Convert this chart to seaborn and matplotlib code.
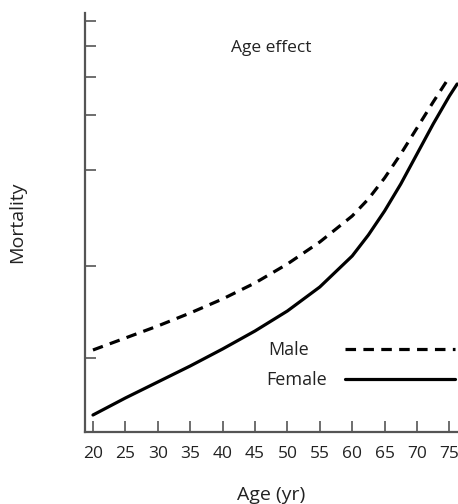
import matplotlib
matplotlib.use("Agg")
import matplotlib.pyplot as plt
import seaborn as sns
import pandas as pd

# Data (y in arbitrary mortality units)
male_age = [20, 25, 30, 35, 40, 45, 50, 55, 60, 62.5, 65, 67.5, 70, 72.5, 74.5]
male_mort = [82, 94, 106, 119, 133, 149, 168, 190, 216, 233, 254, 278, 304, 330, 350]
female_age = [20, 25, 30, 35, 40, 45, 50, 55, 60, 62.5, 65, 67.5, 70, 72.5, 75, 76.2]
female_mort = [17, 34, 50, 66, 83, 101, 121, 145, 176, 197, 221, 248, 278, 308, 336, 348]
x_ticks = [20, 25, 30, 35, 40, 45, 50, 55, 60, 65, 70, 75]
y_ticks = [74, 166, 262, 317, 355, 386, 411]

df = pd.concat([
    pd.DataFrame({"Age": male_age, "Mortality": male_mort, "Sex": "Male"}),
    pd.DataFrame({"Age": female_age, "Mortality": female_mort, "Sex": "Female"}),
], ignore_index=True)

sns.set_theme(style="ticks")
plt.rcParams["font.family"] = ["Open Sans", "DejaVu Sans"]
TXT = "#222222"

fig = plt.figure(figsize=(4.58, 5.04), dpi=100)
ax = fig.add_axes([85 / 458, (504 - 432) / 504, (458 - 85) / 458, (432 - 13) / 504])

sns.lineplot(data=df[df.Sex == "Male"], x="Age", y="Mortality", color="black",
             linewidth=2.3, linestyle=(0, (3.3, 2.3)), ax=ax, sort=False,
             estimator=None, label="Male")
sns.lineplot(data=df[df.Sex == "Female"], x="Age", y="Mortality", color="black",
             linewidth=2.3, ax=ax, sort=False, estimator=None, label="Female")

ax.set_xlim(18.77, 76.33)
ax.set_ylim(0, 419)
ax.set_xticks(x_ticks)
ax.set_xticklabels([str(t) for t in x_ticks], fontsize=12.5, color=TXT)
ax.set_yticks(y_ticks)
ax.set_yticklabels([])
ax.tick_params(axis="both", direction="in", length=8, width=1.2, color="#555555")
ax.tick_params(axis="x", pad=10)
for side in ["top", "right"]:
    ax.spines[side].set_visible(False)
for side in ["left", "bottom"]:
    ax.spines[side].set_color("#555555")
    ax.spines[side].set_linewidth(1.6)

ax.set_xlabel("Age (yr)", fontsize=14, color=TXT, labelpad=17)
ax.set_ylabel("Mortality", fontsize=14, color=TXT, labelpad=39)
ax.text(0.499, 0.916, "Age effect", transform=ax.transAxes, fontsize=12.5,
        color=TXT, ha="center", va="center")

handles, labels = ax.get_legend_handles_labels()
if ax.get_legend() is not None:
    ax.get_legend().remove()
common = dict(loc="center right", frameon=False, markerfirst=False,
              handlelength=6.1, fontsize=13, borderaxespad=0, borderpad=0)
leg_m = ax.legend([handles[0]], [labels[0]], bbox_to_anchor=(0.992, 0.196),
                  handletextpad=2.0, **common)
ax.add_artist(leg_m)
leg_f = ax.legend([handles[1]], [labels[1]], bbox_to_anchor=(0.992, 0.124),
                  handletextpad=1.0, **common)
for lg in (leg_m, leg_f):
    for t in lg.get_texts():
        t.set_color(TXT)

fig.savefig("out.png", dpi=100)
